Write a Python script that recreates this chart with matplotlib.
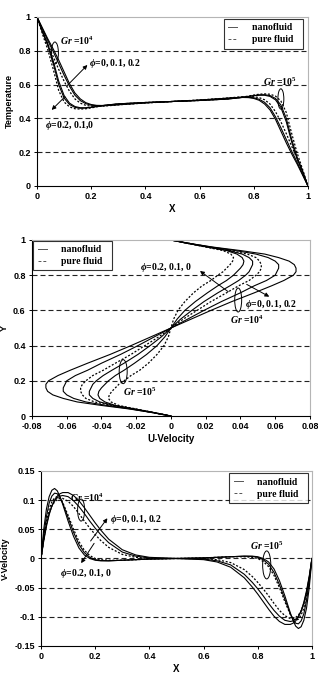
import matplotlib

matplotlib.use("Agg")
import matplotlib.pyplot as plt
from matplotlib.lines import Line2D
from matplotlib.patches import Ellipse

plt.rcParams["font.family"] = ["Liberation Sans", "DejaVu Sans"]
plt.rcParams["mathtext.fontset"] = "custom"
plt.rcParams["mathtext.rm"] = "Liberation Serif:bold"
plt.rcParams["mathtext.it"] = "Liberation Serif:italic:bold"
plt.rcParams["mathtext.bf"] = "Liberation Serif:bold"

# --------------------------------------------------------------------------- #
# Datos
# --------------------------------------------------------------------------- #
# Panel 1: temperatura vs X
X_T = [0, 0.02, 0.04, 0.06, 0.08, 0.10, 0.12, 0.14, 0.16, 0.18, 0.20, 0.22, 0.25,
       0.3, 0.4, 0.5, 0.6, 0.7, 0.75, 0.78, 0.80, 0.82, 0.84, 0.86, 0.88, 0.90,
       0.92, 0.94, 0.96, 0.98, 1.0]
T_GR4_PHI0 = [1, 0.92, 0.84, 0.765, 0.69, 0.62, 0.56, 0.515, 0.49, 0.477, 0.472, 0.471,
              0.473, 0.480, 0.491, 0.5, 0.509, 0.52, 0.527, 0.529, 0.528, 0.523, 0.51,
              0.485, 0.44, 0.38, 0.31, 0.235, 0.16, 0.08, 0]
T_GR4_PHI1 = [1, 0.93, 0.86, 0.795, 0.725, 0.655, 0.59, 0.537, 0.505, 0.487, 0.478, 0.475,
              0.475, 0.481, 0.492, 0.5, 0.508, 0.519, 0.525, 0.525, 0.522, 0.513, 0.495,
              0.463, 0.41, 0.345, 0.275, 0.205, 0.14, 0.07, 0]
T_GR4_PHI2 = [1, 0.935, 0.87, 0.81, 0.745, 0.675, 0.605, 0.55, 0.515, 0.493, 0.482, 0.477,
              0.476, 0.481, 0.492, 0.5, 0.508, 0.519, 0.524, 0.523, 0.518, 0.507, 0.485,
              0.45, 0.395, 0.325, 0.255, 0.19, 0.13, 0.065, 0]
T_GR5_PHI0 = [1, 0.9, 0.805, 0.69, 0.565, 0.497, 0.468, 0.457, 0.455, 0.457, 0.462, 0.468,
              0.476, 0.485, 0.494, 0.5, 0.506, 0.515, 0.524, 0.532, 0.538, 0.543, 0.545,
              0.543, 0.532, 0.503, 0.435, 0.31, 0.195, 0.10, 0]
T_GR5_PHI1 = [1, 0.91, 0.83, 0.725, 0.60, 0.52, 0.482, 0.465, 0.46, 0.461, 0.465, 0.47,
              0.477, 0.486, 0.494, 0.5, 0.506, 0.514, 0.523, 0.53, 0.535, 0.539, 0.54,
              0.535, 0.518, 0.48, 0.40, 0.275, 0.17, 0.09, 0]
T_GR5_PHI2 = [1, 0.915, 0.84, 0.74, 0.62, 0.535, 0.49, 0.47, 0.463, 0.463, 0.466, 0.471,
              0.478, 0.486, 0.494, 0.5, 0.506, 0.514, 0.522, 0.529, 0.534, 0.537, 0.537,
              0.53, 0.51, 0.465, 0.38, 0.26, 0.16, 0.085, 0]

# Panel 2: U vs Y
Y_U = [0, 0.02, 0.04, 0.06, 0.08, 0.1, 0.12, 0.14, 0.16, 0.18, 0.2, 0.23, 0.26, 0.3,
       0.35, 0.4, 0.45, 0.5, 0.55, 0.6, 0.65, 0.7, 0.74, 0.77, 0.8, 0.82, 0.84, 0.86,
       0.88, 0.9, 0.92, 0.94, 0.96, 0.98, 1.0]
U_A = [0, -0.010, -0.020, -0.030, -0.0345, -0.036, -0.0355, -0.034, -0.032, -0.030,
       -0.027, -0.023, -0.018, -0.013, -0.008, -0.004, -0.0015, 0, 0.0015, 0.004, 0.008,
       0.013, 0.018, 0.023, 0.027, 0.030, 0.032, 0.034, 0.0355, 0.036, 0.0345, 0.030,
       0.020, 0.010, 0]
U_B = [0, -0.010, -0.021, -0.032, -0.038, -0.041, -0.042, -0.0415, -0.040, -0.038,
       -0.036, -0.032, -0.027, -0.021, -0.014, -0.008, -0.0035, 0, 0.0035, 0.008, 0.014,
       0.021, 0.027, 0.032, 0.036, 0.038, 0.040, 0.0415, 0.042, 0.041, 0.038, 0.032,
       0.021, 0.010, 0]
U_C = [0, -0.010, -0.021, -0.033, -0.041, -0.045, -0.047, -0.047, -0.046, -0.045,
       -0.043, -0.039, -0.034, -0.027, -0.019, -0.012, -0.0055, 0, 0.0055, 0.012, 0.019,
       0.027, 0.034, 0.039, 0.043, 0.045, 0.046, 0.047, 0.047, 0.045, 0.041, 0.033,
       0.021, 0.010, 0]
U_D = [0, -0.011, -0.022, -0.034, -0.044, -0.049, -0.051, -0.052, -0.052, -0.051,
       -0.049, -0.045, -0.039, -0.032, -0.023, -0.015, -0.007, 0, 0.007, 0.015, 0.023,
       0.032, 0.039, 0.045, 0.049, 0.051, 0.052, 0.052, 0.051, 0.049, 0.044, 0.034,
       0.022, 0.011, 0]
U_E = [0, -0.011, -0.023, -0.037, -0.049, -0.056, -0.060, -0.062, -0.062, -0.061,
       -0.060, -0.055, -0.048, -0.040, -0.029, -0.019, -0.0095, 0, 0.0095, 0.019, 0.029,
       0.040, 0.048, 0.055, 0.060, 0.061, 0.062, 0.062, 0.060, 0.056, 0.049, 0.037,
       0.023, 0.011, 0]
U_F = [0, -0.011, -0.024, -0.040, -0.054, -0.062, -0.068, -0.071, -0.072, -0.072,
       -0.0705, -0.065, -0.058, -0.048, -0.035, -0.023, -0.0115, 0, 0.0115, 0.023, 0.035,
       0.048, 0.058, 0.065, 0.0705, 0.072, 0.072, 0.071, 0.068, 0.062, 0.054, 0.040,
       0.024, 0.011, 0]

# Panel 3: V vs X
X_V = [0, 0.01, 0.02, 0.03, 0.04, 0.05, 0.06, 0.07, 0.08, 0.1, 0.12, 0.14, 0.16, 0.18,
       0.2, 0.22, 0.25, 0.3, 0.35, 0.4, 0.5, 0.6, 0.65, 0.7, 0.75, 0.78, 0.8, 0.82,
       0.84, 0.86, 0.88, 0.9, 0.92, 0.93, 0.94, 0.95, 0.96, 0.97, 0.98, 0.99, 1.0]
V_N1 = [0, 0.05, 0.085, 0.106, 0.117, 0.12, 0.116, 0.106, 0.093, 0.064, 0.038, 0.018,
        0.006, 0.0, -0.003, -0.004, -0.004, -0.003, -0.002, -0.001, 0,
        0.001, 0.002, 0.003, 0.004, 0.004, 0.003, 0.0, -0.006, -0.018, -0.038, -0.064,
        -0.093, -0.106, -0.116, -0.12, -0.117, -0.106, -0.085, -0.05, 0]
V_N2 = [0, 0.04, 0.072, 0.095, 0.107, 0.112, 0.111, 0.105, 0.095, 0.07, 0.045, 0.024,
        0.01, 0.002, -0.002, -0.0035, -0.004, -0.003, -0.002, -0.001, 0,
        0.001, 0.002, 0.003, 0.004, 0.0035, 0.002, -0.002, -0.01, -0.024, -0.045, -0.07,
        -0.095, -0.105, -0.111, -0.112, -0.107, -0.095, -0.072, -0.04, 0]
V_N3 = [0, 0.035, 0.064, 0.085, 0.097, 0.104, 0.106, 0.103, 0.096, 0.074, 0.05, 0.029,
        0.014, 0.005, 0.0, -0.002, -0.003, -0.003, -0.002, -0.001, 0,
        0.001, 0.002, 0.003, 0.003, 0.002, 0.0, -0.005, -0.014, -0.029, -0.05, -0.074,
        -0.096, -0.103, -0.106, -0.104, -0.097, -0.085, -0.064, -0.035, 0]
V_W1 = [0, 0.03, 0.055, 0.075, 0.09, 0.1, 0.107, 0.111, 0.113, 0.113, 0.108, 0.099,
        0.087, 0.074, 0.061, 0.049, 0.033, 0.015, 0.006, 0.002, 0,
        -0.002, -0.006, -0.015, -0.033, -0.049, -0.061, -0.074, -0.087, -0.099, -0.108,
        -0.113, -0.113, -0.111, -0.107, -0.1, -0.09, -0.075, -0.055, -0.03, 0]
V_W2 = [0, 0.032, 0.058, 0.077, 0.09, 0.099, 0.104, 0.107, 0.108, 0.106, 0.099, 0.089,
        0.077, 0.064, 0.052, 0.041, 0.027, 0.011, 0.004, 0.001, 0,
        -0.001, -0.004, -0.011, -0.027, -0.041, -0.052, -0.064, -0.077, -0.089, -0.099,
        -0.106, -0.108, -0.107, -0.104, -0.099, -0.09, -0.077, -0.058, -0.032, 0]
V_W3 = [0, 0.034, 0.06, 0.078, 0.09, 0.097, 0.101, 0.103, 0.103, 0.098, 0.089, 0.077,
        0.064, 0.052, 0.041, 0.031, 0.019, 0.007, 0.002, 0.0, 0,
        0.0, -0.002, -0.007, -0.019, -0.031, -0.041, -0.052, -0.064, -0.077, -0.089,
        -0.098, -0.103, -0.103, -0.101, -0.097, -0.09, -0.078, -0.06, -0.034, 0]

T_TICKS = [0, 0.2, 0.4, 0.6, 0.8, 1]
U_TICKS = [-0.08, -0.06, -0.04, -0.02, 0, 0.02, 0.04, 0.06, 0.08]
V_TICKS = [-0.15, -0.1, -0.05, 0, 0.05, 0.1, 0.15]
LEYENDA = ["nanofluid  ", "pure fluid  "]

# --------------------------------------------------------------------------- #
# Estilo
# --------------------------------------------------------------------------- #
SERIF = {"family": "Liberation Serif", "weight": "bold", "size": 7}
SOLID = dict(color="black", lw=0.8)
DOTTED = dict(color="black", lw=0.9, dashes=(1.6, 1.4))


def fmt(v):
    return "0" if abs(v) < 1e-12 else f"{v:g}"


def estilo(ax, xticks, yticks, xlabel, ylabel):
    ax.set_xlim(xticks[0], xticks[-1])
    ax.set_ylim(yticks[0], yticks[-1])
    ax.set_xticks(xticks)
    ax.set_yticks(yticks)
    ax.set_xticklabels([fmt(v) for v in xticks], fontsize=6.5, fontweight="bold")
    ax.set_yticklabels([fmt(v) for v in yticks], fontsize=6.5, fontweight="bold")
    ax.tick_params(direction="out", length=2.5, width=0.7, pad=2)
    for s in ("top", "right"):
        ax.spines[s].set_color("#b5b5b5")
        ax.spines[s].set_linewidth(0.8)
    for s in ("left", "bottom"):
        ax.spines[s].set_linewidth(0.8)
    # líneas de grilla horizontales discontinuas (sin el borde)
    for v in yticks[1:-1]:
        ax.axhline(v, color="#222222", lw=0.8, dashes=(4.5, 2.7), zorder=0)
    ax.set_xlabel(xlabel, fontsize=7, fontweight="bold", labelpad=2)
    ax.set_ylabel(ylabel, fontsize=6.5, fontweight="bold", labelpad=3)


def leyenda(ax, loc, anchor):
    # manijas cortas y grises, como en el original
    handles = [Line2D([], [], color="#555555", lw=0.7),
               Line2D([], [], color="#555555", lw=0.7, dashes=(3, 2))]
    leg = ax.legend(handles, LEYENDA, loc=loc,
                    bbox_to_anchor=anchor, borderaxespad=0, prop=SERIF,
                    frameon=True, fancybox=False, edgecolor="black",
                    handlelength=0.9, handletextpad=1.5, borderpad=0.45,
                    labelspacing=0.3)
    leg.get_frame().set_linewidth(0.8)


def flecha(ax, tail, head):
    ax.annotate("", xy=head, xytext=tail,
                arrowprops=dict(arrowstyle="-|>", lw=0.7, color="black",
                                mutation_scale=6, shrinkA=0, shrinkB=0))


def elipse(ax, xy, w, h):
    ax.add_patch(Ellipse(xy, w, h, fill=False, ec="black", lw=0.7, zorder=5))


fig = plt.figure(figsize=(3.18, 6.77), dpi=100)

# ---------------- Panel 1 ----------------
ax1 = fig.add_axes([0.1164, 0.7253, 0.852, 0.2496])
for t in (T_GR4_PHI1, T_GR4_PHI2, T_GR5_PHI1, T_GR5_PHI2):
    ax1.plot(X_T, t, **SOLID)
for t in (T_GR4_PHI0, T_GR5_PHI0):
    ax1.plot(X_T, t, **DOTTED)
estilo(ax1, T_TICKS, T_TICKS, "X", "Temperature")
leyenda(ax1, "upper right", (0.98, 0.988))
ax1.text(0.085, 0.86, r"$Gr$ =10$^4$", fontdict=SERIF, va="center")
elipse(ax1, (0.066, 0.787), 0.026, 0.13)
ax1.text(0.192, 0.722, r"$\phi$=0, 0.1, 0.2", fontdict=SERIF, va="center")
flecha(ax1, (0.11, 0.592), (0.186, 0.716))
ax1.text(0.03, 0.355, r"$\phi$=0.2, 0.1,0", fontdict=SERIF, va="center")
flecha(ax1, (0.103, 0.528), (0.054, 0.45))
ax1.text(0.834, 0.618, r"$Gr$ =10$^5$", fontdict=SERIF, va="center")
elipse(ax1, (0.90, 0.515), 0.022, 0.12)

# ---------------- Panel 2 ----------------
ax2 = fig.add_axes([0.1006, 0.3855, 0.874, 0.26])
for u in (U_B, U_C, U_E, U_F):
    ax2.plot(u, Y_U, **SOLID)
for u in (U_A, U_D):
    ax2.plot(u, Y_U, **DOTTED)
estilo(ax2, U_TICKS, T_TICKS, "U-Velocity", "Y")
leyenda(ax2, "upper left", (0.005, 0.996))
ax2.text(-0.0178, 0.844, r"$\phi$=0.2, 0.1, 0", fontdict=SERIF, va="center")
flecha(ax2, (0.033, 0.706), (0.0167, 0.824))
ax2.text(0.0426, 0.631, r"$\phi$=0, 0.1, 0.2", fontdict=SERIF, va="center")
flecha(ax2, (0.0436, 0.748), (0.0566, 0.678))
elipse(ax2, (0.0387, 0.659), 0.004, 0.136)
ax2.text(0.034, 0.548, r"$Gr$ =10$^4$", fontdict=SERIF, va="center")
elipse(ax2, (-0.0275, 0.252), 0.0046, 0.136)
ax2.text(-0.0276, 0.136, r"$Gr$ =10$^5$", fontdict=SERIF, va="center")

# ---------------- Panel 3 ----------------
ax3 = fig.add_axes([0.129, 0.0458, 0.852, 0.2585])
for v in (V_N1, V_N2, V_W1, V_W2):
    ax3.plot(X_V, v, **SOLID)
for v in (V_N3, V_W3):
    ax3.plot(X_V, v, **DOTTED)
estilo(ax3, T_TICKS, V_TICKS, "X", "V-Velocity")
leyenda(ax3, "upper right", (0.985, 0.987))
ax3.text(0.107, 0.1046, r"$Gr$ =10$^4$", fontdict=SERIF, va="center")
elipse(ax3, (0.148, 0.083), 0.026, 0.0377)
ax3.text(0.255, 0.066, r"$\phi$=0, 0.1, 0.2", fontdict=SERIF, va="center")
flecha(ax3, (0.183, 0.03), (0.245, 0.069))
ax3.text(0.07, -0.025, r"$\phi$=0.2, 0.1, 0", fontdict=SERIF, va="center")
flecha(ax3, (0.196, 0.026), (0.148, -0.008))
ax3.text(0.771, 0.0223, r"$Gr$ =10$^5$", fontdict=SERIF, va="center")
elipse(ax3, (0.833, -0.011), 0.03, 0.048)

fig.savefig("out.png", dpi=100, facecolor="white")
